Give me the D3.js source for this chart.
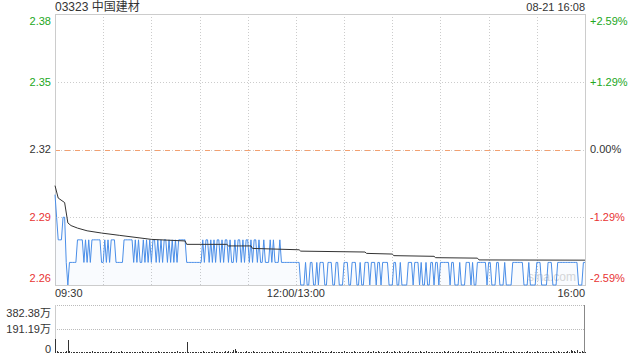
<!DOCTYPE html>
<html>
<head>
<meta charset="utf-8">
<script src="https://cdn.jsdelivr.net/npm/d3@7"></script>
<style>
  body { margin: 0; background: #fff; }
  svg text { font-family: "Liberation Sans", Arial, "Noto Sans CJK SC", sans-serif; font-size: 11px; }
</style>
</head>
<body>
<svg id="chart" width="640" height="360"></svg>
<script>
// --- data ---
const title = "03323 中国建材";
const stamp = "08-21 16:08";
const prevClose = 2.32;
const priceTicks = [2.38, 2.35, 2.32, 2.29, 2.26];
const pctTicks = ["+2.59%", "+1.29%", "0.00%", "-1.29%", "-2.59%"];
const timeLabels = ["09:30", "12:00/13:00", "16:00"];
const timeLabelMinute = [0, 150, 330];
const volTicks = [382.38, 191.19, 0];
const volLabels = ["382.38万", "191.19万", "0"];

// last price per trading minute (0 = 09:30, 150 = 12:00/13:00, 330 = 16:00)
const price = [
  2.30,2.29,2.28,2.28,2.28,2.29,2.29,2.27,2.26,2.27, 2.27,2.27,2.27,2.27,2.28,2.28,2.28,2.28,2.27,2.28, 2.27,2.28,2.27,2.28,2.28,2.28,2.28,2.28,2.28,2.27,
  2.27,2.28,2.27,2.28,2.27,2.28,2.28,2.28,2.27,2.27, 2.27,2.27,2.27,2.28,2.28,2.28,2.28,2.28,2.28,2.27, 2.28,2.27,2.28,2.27,2.27,2.28,2.27,2.28,2.27,2.28,
  2.27,2.28,2.28,2.27,2.28,2.27,2.28,2.27,2.28,2.28, 2.27,2.28,2.27,2.28,2.27,2.28,2.27,2.28,2.28,2.28, 2.28,2.28,2.27,2.27,2.27,2.27,2.27,2.27,2.27,2.27,
  2.27,2.27,2.28,2.27,2.28,2.28,2.27,2.28,2.27,2.28, 2.27,2.28,2.28,2.27,2.28,2.27,2.28,2.28,2.27,2.28, 2.27,2.27,2.28,2.27,2.28,2.28,2.27,2.28,2.27,2.28,
  2.28,2.27,2.28,2.27,2.28,2.28,2.27,2.28,2.27,2.27, 2.28,2.27,2.27,2.27,2.28,2.27,2.28,2.27,2.27,2.27, 2.28,2.27,2.27,2.27,2.27,2.27,2.27,2.27,2.27,2.27,
  2.27,2.27,2.27,2.26,2.26,2.26,2.27,2.26,2.26,2.27, 2.27,2.26,2.26,2.27,2.26,2.27,2.27,2.27,2.26,2.26, 2.27,2.27,2.27,2.26,2.26,2.27,2.27,2.26,2.26,2.26,
  2.27,2.27,2.27,2.26,2.26,2.27,2.27,2.27,2.26,2.26, 2.27,2.26,2.26,2.27,2.27,2.27,2.26,2.27,2.27,2.27, 2.26,2.27,2.27,2.26,2.27,2.27,2.27,2.27,2.26,2.26,
  2.26,2.27,2.27,2.26,2.26,2.27,2.26,2.26,2.26,2.26, 2.27,2.27,2.27,2.26,2.27,2.27,2.27,2.26,2.27,2.26, 2.26,2.27,2.26,2.26,2.27,2.27,2.26,2.27,2.27,2.26,
  2.27,2.27,2.27,2.27,2.27,2.27,2.26,2.27,2.27,2.26, 2.26,2.26,2.27,2.26,2.26,2.26,2.27,2.27,2.27,2.26, 2.27,2.26,2.26,2.27,2.27,2.27,2.27,2.27,2.27,2.26,
  2.27,2.27,2.26,2.26,2.26,2.27,2.27,2.26,2.26,2.26, 2.27,2.26,2.26,2.26,2.26,2.27,2.27,2.27,2.27,2.27, 2.27,2.27,2.26,2.26,2.26,2.27,2.26,2.26,2.26,2.26,
  2.27,2.27,2.27,2.26,2.26,2.26,2.26,2.27,2.27,2.27, 2.26,2.26,2.26,2.27,2.27,2.27,2.27,2.27,2.27,2.27, 2.27,2.27,2.27,2.27,2.27,2.27,2.26,2.26,2.26,2.27,
  2.27
];

// average price, read at the points where it steps
const avgMinute = [0, 2, 6, 8, 10, 14, 20, 29, 40, 60, 81, 82, 107, 108, 122, 123, 152, 153, 193, 194, 210, 211, 236, 237, 263, 264, 330];
const avgPrice = [2.304, 2.2985, 2.2965, 2.2875, 2.2863, 2.2852, 2.284, 2.283, 2.282, 2.2802, 2.2795, 2.278, 2.278, 2.2773, 2.2773, 2.2762, 2.2756, 2.275, 2.2746, 2.274, 2.2737, 2.273, 2.2727, 2.2721, 2.2719, 2.2711, 2.271];

// volume per minute, in 万
const volume = [
  112,18,6,4,9,5,3,14,107,12, 5,3,8,4,6,10,3,5,7,4, 9,3,6,12,4,5,8,3,6,10,
  4,7,3,9,5,12,4,6,3,8, 5,14,4,7,3,6,9,4,11,5, 3,8,6,4,13,5,7,3,10,4,
  6,9,3,5,12,4,8,3,7,5, 10,4,6,3,9,5,14,4,7,3, 6,11,86,5,8,3,6,4,10,5,
  3,7,12,4,6,9,5,3,8,15, 4,6,10,5,3,7,12,4,18,6, 9,24,32,14,8,5,11,4,7,16,
  5,9,4,13,6,3,8,5,11,4, 7,3,10,5,6,14,4,8,3,6, 9,5,12,4,7,3,6,10,4,8,
  5,3,9,16,6,4,11,5,8,3, 12,6,4,9,5,14,7,3,10,5, 8,4,13,6,3,9,5,11,4,7,
  12,5,8,3,10,6,15,4,7,3, 9,5,11,4,6,18,8,5,12,3, 7,14,5,9,4,10,6,13,5,8,
  4,16,7,5,12,3,9,6,4,11, 14,5,8,3,10,6,4,12,5,9, 3,13,6,4,10,7,5,11,8,6,
  9,5,12,4,7,15,3,8,10,5, 4,13,6,9,3,7,11,5,4,12, 6,8,3,10,14,5,7,4,9,6,
  11,5,8,3,12,6,4,9,5,13, 7,3,10,5,8,16,4,6,11,5, 3,9,7,4,12,6,5,10,4,8,
  13,5,7,3,9,6,11,4,8,5, 12,3,7,14,6,9,4,10,5,18, 8,22,12,16,9,20,6,11,14,8,
  10
];

// --- layout ---
const svg = d3.select("#chart");
const plotLeft = 55, plotRight = 585, plotTop = 14, plotBottom = 285;
const volTop = 305, volBottom = 353;
const green = "#22a722", red = "#e83333", ink = "#333";

const x = d3.scaleLinear().domain([0, 330]).range([plotLeft, plotRight]);
const y = d3.scaleLinear().domain([2.26, 2.38]).range([plotBottom, plotTop]);
const yv = d3.scaleLinear().domain([0, 382.38]).range([volBottom, volTop]);

const tickColor = (v) => (v > prevClose ? green : v < prevClose ? red : ink);

// header
svg.append("text").attr("x", plotLeft).attr("y", 11).attr("fill", ink).style("font-size", "12px").text(title);
svg.append("text").attr("x", plotRight).attr("y", 11).attr("text-anchor", "end").attr("fill", ink).text(stamp);

// --- grid ---
const grid = svg.append("g").attr("stroke", "#ccc").attr("stroke-dasharray", "1,2").attr("shape-rendering", "crispEdges");
grid.selectAll("line.v")
  .data(d3.range(30, 330, 30))
  .join("line")
  .attr("x1", (d) => Math.round(x(d)) + 0.5)
  .attr("x2", (d) => Math.round(x(d)) + 0.5)
  .attr("y1", plotTop)
  .attr("y2", plotBottom);
grid.selectAll("line.h")
  .data([2.35, 2.32, 2.29])
  .join("line")
  .attr("x1", plotLeft)
  .attr("x2", plotRight)
  .attr("y1", (d) => Math.round(y(d)) + 0.5)
  .attr("y2", (d) => Math.round(y(d)) + 0.5);

// previous close line
svg.append("line")
  .attr("x1", plotLeft).attr("x2", plotRight)
  .attr("y1", Math.round(y(prevClose)) + 0.5).attr("y2", Math.round(y(prevClose)) + 0.5)
  .attr("stroke", "#f3a070").attr("stroke-dasharray", "5,5")
  .attr("shape-rendering", "crispEdges");

// frame
svg.append("rect")
  .attr("x", plotLeft + 0.5).attr("y", plotTop + 0.5)
  .attr("width", plotRight - plotLeft).attr("height", plotBottom - plotTop)
  .attr("fill", "none").attr("stroke", "#ccc")
  .attr("shape-rendering", "crispEdges");

// watermark
svg.append("text").attr("x", 552).attr("y", 281).attr("text-anchor", "middle")
  .attr("fill", "#d8d8d8").style("font-size", "12px").text("sina.com");

// --- price area + lines ---
const pts = price.map((p, i) => [i, p]);
svg.append("path")
  .datum(pts)
  .attr("fill", "rgba(74,144,226,0.035)")
  .attr("d", d3.area().x((d) => x(d[0])).y0(plotBottom).y1((d) => y(d[1])));

svg.append("path")
  .datum(pts)
  .attr("fill", "none")
  .attr("stroke", "#4a8ee8")
  .attr("stroke-width", 1)
  .attr("d", d3.line().x((d) => x(d[0])).y((d) => y(d[1])));

svg.append("path")
  .datum(avgMinute.map((m, i) => [m, avgPrice[i]]))
  .attr("fill", "none")
  .attr("stroke", "#333")
  .attr("stroke-width", 1)
  .attr("d", d3.line().x((d) => x(d[0])).y((d) => y(d[1])));

// --- axis labels ---
const labelY = (v) => Math.max(plotTop + 7, Math.min(plotBottom - 7, y(v)));
svg.append("g")
  .selectAll("text")
  .data(priceTicks)
  .join("text")
  .attr("x", 51)
  .attr("y", (d) => labelY(d))
  .attr("dy", "0.35em")
  .attr("text-anchor", "end")
  .attr("fill", tickColor)
  .text((d) => d.toFixed(2));

svg.append("g")
  .selectAll("text")
  .data(pctTicks)
  .join("text")
  .attr("x", 590)
  .attr("y", (d, i) => labelY(priceTicks[i]))
  .attr("dy", "0.35em")
  .attr("fill", (d, i) => tickColor(priceTicks[i]))
  .text((d) => d);

svg.append("g")
  .selectAll("text")
  .data(timeLabels)
  .join("text")
  .attr("x", (d, i) => x(timeLabelMinute[i]))
  .attr("y", 297)
  .attr("text-anchor", (d, i) => (i === 0 ? "start" : i === timeLabels.length - 1 ? "end" : "middle"))
  .attr("fill", ink)
  .text((d) => d);

// --- volume panel ---
const vg = svg.append("g").attr("shape-rendering", "crispEdges");
vg.selectAll("line.grid")
  .data([382.38, 191.19])
  .join("line")
  .attr("x1", plotLeft).attr("x2", plotRight)
  .attr("y1", (d) => Math.round(yv(d)) + 0.5)
  .attr("y2", (d) => Math.round(yv(d)) + 0.5)
  .attr("stroke", "#bbb").attr("stroke-dasharray", "1,1");
vg.append("line")
  .attr("x1", plotLeft + 0.5).attr("x2", plotLeft + 0.5)
  .attr("y1", volTop).attr("y2", volBottom)
  .attr("stroke", "#ccc");
vg.append("line")
  .attr("x1", plotRight - 0.5).attr("x2", plotRight - 0.5)
  .attr("y1", volTop).attr("y2", volBottom)
  .attr("stroke", "#888");

vg.selectAll("line.bar")
  .data(volume)
  .join("line")
  .attr("x1", (d, i) => Math.round(x(i)) + 0.5)
  .attr("x2", (d, i) => Math.round(x(i)) + 0.5)
  .attr("y1", volBottom)
  .attr("y2", (d) => Math.min(volBottom - 1, yv(d)))
  .attr("stroke", "#333");

const vLabelY = (v) => Math.max(volTop + 8, Math.min(volBottom - 4, yv(v)));
svg.append("g")
  .selectAll("text")
  .data(volLabels)
  .join("text")
  .attr("x", 51)
  .attr("y", (d, i) => vLabelY(volTicks[i]))
  .attr("dy", "0.35em")
  .attr("text-anchor", "end")
  .attr("fill", ink)
  .text((d) => d);
</script>
</body>
</html>
